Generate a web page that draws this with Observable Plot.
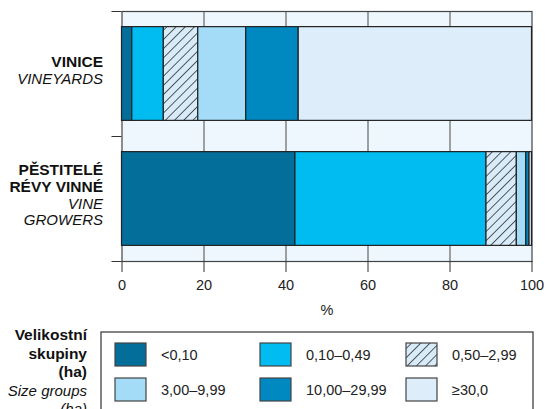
<!DOCTYPE html>
<html>
<head>
<meta charset="utf-8">
<script src="https://cdn.jsdelivr.net/npm/d3@7"></script>
<script src="https://cdn.jsdelivr.net/npm/@observablehq/plot@0.6"></script>
<style>
  body { margin: 0; background: #fff; font-family: "Liberation Sans", Arial, Helvetica, sans-serif; }
  svg { display: block; }
</style>
</head>
<body>
<div id="chart"></div>
<script>
// ---- data ----
const categoriesBold = ["VINICE", "PĚSTITELÉ\nRÉVY VINNÉ"];
const categoriesItalic = ["VINEYARDS", "VINE\nGROWERS"];
const groups = ["<0,10", "0,10–0,49", "0,50–2,99", "3,00–9,99", "10,00–29,99", "≥30,0"];
const vineyards = [2.5, 7.7, 8.4, 11.7, 12.8, 56.9];
const growers = [42.3, 46.6, 7.4, 2.3, 0.8, 0.6];
const xTicks = [0, 20, 40, 60, 80, 100];
const legendTitleBold = ["Velikostní", "skupiny", "(ha)"];
const legendTitleItalic = ["Size groups", "(ha)"];

const colors = ["#036e9a", "#00bcf0", "url(#hatch)", "#a4dcf7", "#0088c0", "#ddeefa"];

// build table
const series = [vineyards, growers];
const rows = [];
series.forEach((vals, i) => {
  const cum = d3.cumsum(vals);
  vals.forEach((v, j) => {
    rows.push({cat: i, group: groups[j], x1: cum[j] - v, x2: cum[j], fill: colors[j]});
  });
});
const labels = categoriesBold.map((b, i) => ({i, bold: b, italic: categoriesItalic[i]}));

const FONT = "'Liberation Sans', Arial, Helvetica, sans-serif";
const W = 547, H = 322;

const chart = Plot.plot({
  width: W,
  height: H,
  marginTop: 11,
  marginBottom: 61,
  marginLeft: 121.5,
  marginRight: 15.5,
  style: {fontFamily: FONT, fontSize: "14px", color: "#222", background: "transparent"},
  x: {domain: [0, 100]},
  y: {domain: [0, 2], reverse: true},
  marks: [
    Plot.frame({fill: "#eef7fe", stroke: "none"}),
    Plot.ruleX([20, 40, 60, 80], {stroke: "#666", strokeWidth: 1.2}),
    Plot.frame({stroke: "#444", strokeWidth: 1.2}),
    Plot.rectX(rows, {
      x1: "x1", x2: "x2",
      y1: d => d.cat + 0.125, y2: d => d.cat + 0.875,
      fill: "fill", stroke: "#222", strokeWidth: 1.2
    }),
    Plot.axisY({ticks: [0, 1, 2], tickSize: 10, tickFormat: () => "", stroke: "#333", label: null}),
    Plot.axisX({ticks: xTicks, tickSize: 11, tickPadding: 7, stroke: "#333", fontSize: 14.5,
      label: "%", labelAnchor: "center", labelArrow: "none", labelOffset: 53, tickFormat: d => String(d)}),
    Plot.text(labels, {
      x: 0, y: d => d.i + 0.5, text: "bold", frameAnchor: "left",
      textAnchor: "end", lineAnchor: "bottom", dx: -19, dy: -7, fontWeight: "bold",
      fontSize: 15.5, lineHeight: 1.08, fill: "#111"
    }),
    Plot.text(labels, {
      x: 0, y: d => d.i + 0.5, text: "italic", frameAnchor: "left",
      textAnchor: "end", lineAnchor: "top", dx: -19, dy: -2, fontStyle: "italic",
      fontSize: 15, lineHeight: 1.1, fill: "#111"
    })
  ]
});

// hatch pattern
const defs = d3.select(chart).insert("defs", ":first-child");
function addHatch(defs, id) {
  const p = defs.append("pattern").attr("id", id).attr("patternUnits", "userSpaceOnUse")
    .attr("width", 6.5).attr("height", 6.5).attr("patternTransform", "rotate(45)");
  p.append("rect").attr("width", 6.5).attr("height", 6.5).attr("fill", "#d8ebf8");
  p.append("line").attr("x1", 0).attr("y1", 0).attr("x2", 0).attr("y2", 6.5)
    .attr("stroke", "#333").attr("stroke-width", 1.6);
}
addHatch(defs, "hatch");
document.getElementById("chart").appendChild(chart);

// legend
const LH = 409 - H;
const leg = d3.create("svg").attr("width", W).attr("height", LH)
  .style("font-family", FONT);
addHatch(leg.append("defs"), "hatch2");
leg.append("rect").attr("x", 101).attr("y", 10).attr("width", 432).attr("height", 120)
  .attr("fill", "none").attr("stroke", "#333").attr("stroke-width", 1.2);
legendTitleBold.forEach((t, k) => {
  leg.append("text").attr("x", 87).attr("y", 18 + k * 18.5).attr("text-anchor", "end")
    .attr("font-weight", "bold").attr("font-size", 15.5).attr("fill", "#111").text(t);
});
legendTitleItalic.forEach((t, k) => {
  leg.append("text").attr("x", 87).attr("y", 18 + (k + 3) * 18.5).attr("text-anchor", "end")
    .attr("font-style", "italic").attr("font-size", 15).attr("fill", "#111").text(t);
});
const colX = [115, 260, 406];
const rowY = [21, 56];
groups.forEach((g, j) => {
  const cx = colX[j % 3], cy = rowY[Math.floor(j / 3)];
  const f = colors[j] === "url(#hatch)" ? "url(#hatch2)" : colors[j];
  leg.append("rect").attr("x", cx).attr("y", cy).attr("width", 31).attr("height", 23)
    .attr("fill", f).attr("stroke", "#444").attr("stroke-width", 1.2);
  leg.append("text").attr("x", cx + 46).attr("y", cy + 11.5).attr("dy", "0.35em")
    .attr("font-size", 14.5).attr("fill", "#222").text(g);
});
document.getElementById("chart").appendChild(leg.node());
</script>
</body>
</html>
